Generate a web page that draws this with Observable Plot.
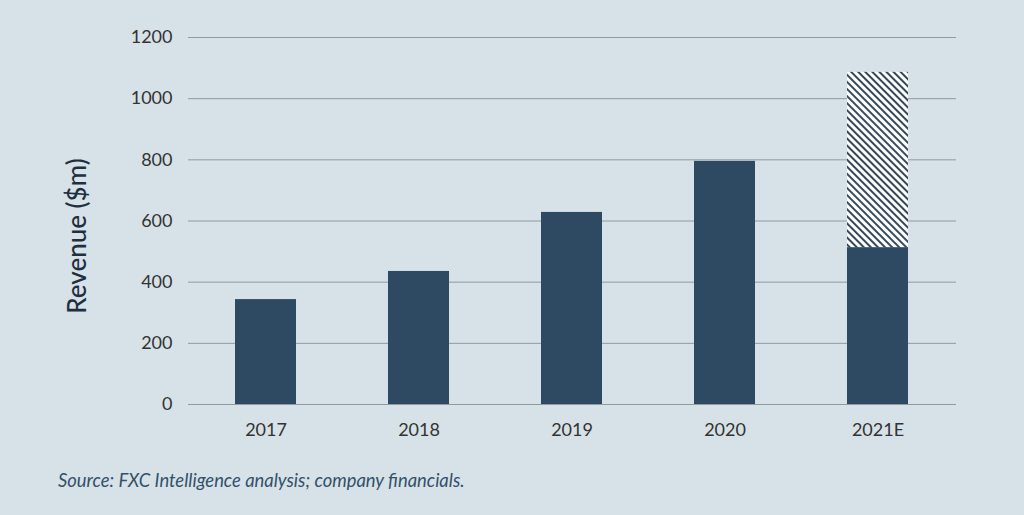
<!DOCTYPE html>
<html>
<head>
<meta charset="utf-8">
<script src="https://cdn.jsdelivr.net/npm/d3@7"></script>
<script src="https://cdn.jsdelivr.net/npm/@observablehq/plot@0.6"></script>
<style>
  html, body { margin: 0; padding: 0; background: #d6e2e7; }
  body { width: 1024px; height: 515px; overflow: hidden; font-family: Lato, "Open Sans", sans-serif; }
  #chart { position: absolute; left: 0; top: 0; }
  #caption { position: absolute; left: 58px; top: 469px; font-style: italic; font-size: 18.4px; color: #34506a; font-family: Lato, sans-serif; }
</style>
</head>
<body>
<div id="chart"></div>
<div id="caption">Source: FXC Intelligence analysis; company financials.</div>
<script>
const years = ["2017", "2018", "2019", "2020", "2021E"];
const actual = [343, 435, 628, 795, 513];
const estimateTotal = [null, null, null, null, 1086];
const yTicks = [0, 200, 400, 600, 800, 1000, 1200];

const solid = years.map((y, i) => ({year: y, value: actual[i]}));
const hatched = years.map((y, i) => ({year: y, y1: actual[i], y2: estimateTotal[i]})).filter(d => d.y2 != null);

const chart = Plot.plot({
  width: 1024,
  height: 450,
  marginLeft: 188,
  marginRight: 68,
  marginTop: 37,
  marginBottom: 46,
  style: {background: "transparent", fontFamily: "Lato, sans-serif", color: "#333"},
  x: {domain: years, paddingInner: 0.6, paddingOuter: 0.3, label: null},
  y: {domain: [0, 1200], label: null},
  marks: [
    Plot.gridY(yTicks, {stroke: "#8f9aa1", strokeOpacity: 1, strokeWidth: 1}),
    Plot.ruleY([0], {stroke: "#8f9aa1", strokeWidth: 1.2}),
    Plot.barY(solid, {x: "year", y: "value", fill: "#2e4a62"}),
    Plot.barY(hatched, {x: "year", y1: "y1", y2: "y2", fill: "url(#hatch)"}),
    Plot.axisY({ticks: yTicks, tickFormat: d => String(d), tickSize: 0, tickPadding: 16, fontSize: 18, label: "Revenue ($m)", labelAnchor: "center", labelArrow: "none", labelOffset: 121}),
    Plot.axisX({tickSize: 0, tickPadding: 19, fontSize: 18})
  ]
});

const svg = d3.select(chart);
const defs = svg.insert("defs", ":first-child");
const pat = defs.append("pattern")
  .attr("id", "hatch")
  .attr("patternUnits", "userSpaceOnUse")
  .attr("width", 5).attr("height", 5)
  .attr("patternTransform", "rotate(-45)");
pat.append("rect").attr("width", 5).attr("height", 5).attr("fill", "#ffffff");
pat.append("rect").attr("x", 0).attr("width", 2).attr("height", 5).attr("fill", "#34495c");

svg.selectAll('[aria-label="y-axis label"] text')
  .attr("font-size", 26).attr("font-weight", 500).attr("fill", "#1f2f40")
  .attr("transform", function() { return "translate(0,15) " + (this.getAttribute("transform") || ""); });
svg.selectAll('[aria-label="y-axis tick label"] text, [aria-label="x-axis tick label"] text').attr("fill", "#333");

document.getElementById("chart").appendChild(chart);
</script>
</body>
</html>
